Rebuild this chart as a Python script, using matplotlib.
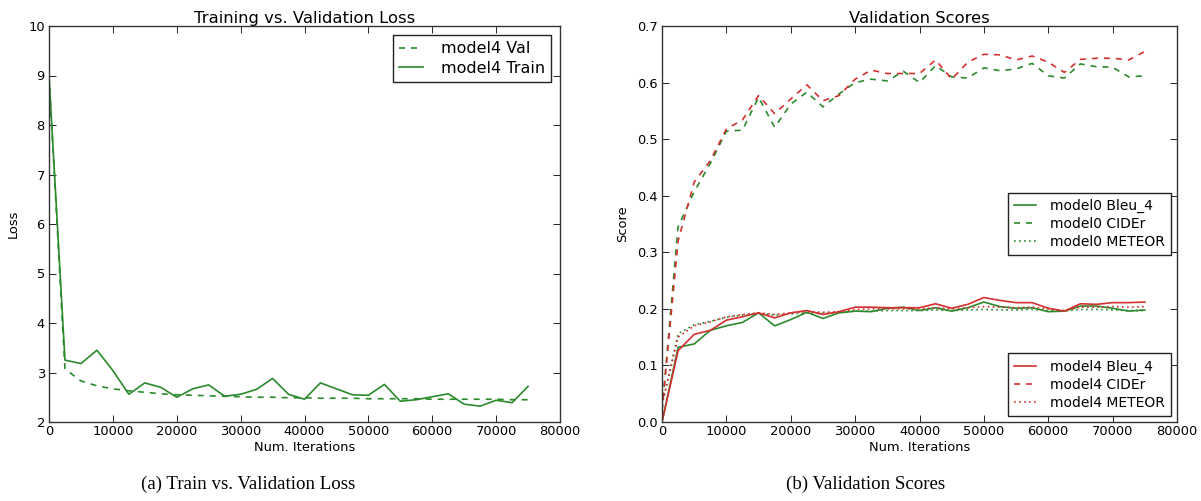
import matplotlib
matplotlib.use("Agg")
import matplotlib.pyplot as plt

# ---------------- data ----------------
iters = [0, 2500, 5000, 7500, 10000, 12500, 15000, 17500, 20000, 22500, 25000,
         27500, 30000, 32500, 35000, 37500, 40000, 42500, 45000, 47500, 50000,
         52500, 55000, 57500, 60000, 62500, 65000, 67500, 70000, 72500, 75000]

model4_train = [9.0, 3.25, 3.18, 3.45, 3.04, 2.56, 2.79, 2.70, 2.50, 2.67, 2.75,
                2.52, 2.56, 2.66, 2.88, 2.56, 2.46, 2.79, 2.67, 2.55, 2.54,
                2.76, 2.42, 2.45, 2.51, 2.57, 2.36, 2.32, 2.44, 2.39, 2.72]
model4_val = [9.0, 3.07, 2.83, 2.73, 2.67, 2.63, 2.60, 2.57, 2.55, 2.54, 2.53,
              2.52, 2.51, 2.50, 2.50, 2.49, 2.49, 2.48, 2.48, 2.48, 2.47,
              2.47, 2.47, 2.47, 2.46, 2.46, 2.46, 2.46, 2.46, 2.45, 2.45]

model0_bleu = [0.0, 0.132, 0.138, 0.162, 0.170, 0.176, 0.193, 0.170, 0.181, 0.194, 0.183,
               0.193, 0.196, 0.195, 0.201, 0.203, 0.197, 0.202, 0.196, 0.202, 0.212,
               0.204, 0.201, 0.202, 0.195, 0.196, 0.205, 0.205, 0.201, 0.196, 0.198]
model0_cider = [0.02, 0.345, 0.407, 0.457, 0.514, 0.516, 0.574, 0.521, 0.562, 0.583, 0.557,
                0.580, 0.600, 0.606, 0.603, 0.620, 0.600, 0.630, 0.610, 0.608, 0.626,
                0.621, 0.624, 0.634, 0.612, 0.608, 0.633, 0.628, 0.627, 0.610, 0.612]
model0_meteor = [0.03, 0.156, 0.172, 0.178, 0.185, 0.189, 0.192, 0.189, 0.191, 0.193, 0.192,
                 0.193, 0.196, 0.196, 0.197, 0.197, 0.197, 0.198, 0.197, 0.198, 0.199,
                 0.198, 0.198, 0.199, 0.197, 0.196, 0.199, 0.199, 0.198, 0.197, 0.197]

model4_bleu = [0.0, 0.126, 0.155, 0.162, 0.180, 0.186, 0.193, 0.184, 0.193, 0.197, 0.190,
               0.195, 0.203, 0.203, 0.202, 0.202, 0.202, 0.209, 0.201, 0.208, 0.220,
               0.215, 0.211, 0.211, 0.201, 0.196, 0.209, 0.208, 0.211, 0.211, 0.212]
model4_cider = [0.02, 0.320, 0.424, 0.462, 0.518, 0.534, 0.577, 0.545, 0.571, 0.596, 0.568,
                0.577, 0.606, 0.622, 0.616, 0.616, 0.616, 0.640, 0.606, 0.636, 0.650,
                0.649, 0.640, 0.647, 0.636, 0.618, 0.641, 0.643, 0.643, 0.640, 0.655]
model4_meteor = [0.03, 0.150, 0.170, 0.177, 0.186, 0.190, 0.193, 0.190, 0.193, 0.195, 0.194,
                 0.195, 0.199, 0.200, 0.200, 0.200, 0.200, 0.202, 0.200, 0.202, 0.204,
                 0.203, 0.202, 0.203, 0.200, 0.197, 0.203, 0.203, 0.204, 0.203, 0.204]

# ---------------- style ----------------
GREEN = "#2b8a2b"
RED = "#d43030"
plt.rcParams.update({
    "font.family": ["DejaVu Sans"],
    "font.size": 9.4,
    "axes.linewidth": 1.0,
    "axes.edgecolor": "#333333",
    "xtick.direction": "in",
    "ytick.direction": "in",
    "xtick.top": True,
    "ytick.right": True,
    "xtick.major.size": 5,
    "ytick.major.size": 5,
    "xtick.major.width": 0.6,
    "ytick.major.width": 0.6,
    "xtick.major.pad": 2.5,
    "ytick.major.pad": 3,
    "xtick.labelsize": 9.4,
    "ytick.labelsize": 9.4,
    "lines.dashed_pattern": [3.6, 3.6],
    "lines.dotted_pattern": [1, 2],
    "legend.frameon": True,
    "legend.fancybox": False,
    "legend.edgecolor": "#222222",
    "legend.framealpha": 1.0,
})

fig = plt.figure(figsize=(12.01, 5.01), dpi=100)
fig.patch.set_facecolor("white")

W, H = 1201.0, 501.0
TOP, BOT = 26, 422
axL = fig.add_axes([49 / W, (H - BOT) / H, (560 - 49) / W, (BOT - TOP) / H])
axR = fig.add_axes([662 / W, (H - BOT) / H, (1177 - 662) / W, (BOT - TOP) / H])

lw = 1.2
# ---- left ----
axL.plot(iters, model4_val, color=GREEN, ls="--", lw=lw, label="model4 Val")
axL.plot(iters, model4_train, color=GREEN, ls="-", lw=lw, label="model4 Train")
axL.set_xlim(0, 80000)
axL.set_ylim(2, 10)
axL.set_title("Training vs. Validation Loss", fontsize=11.8, pad=1.5)
axL.set_xlabel("Num. Iterations", fontsize=9.4, labelpad=2)
axL.set_ylabel("Loss", fontsize=9.4, labelpad=6)
axL.legend(loc="upper right", fontsize=11.5, handlelength=1.5, handletextpad=1.1,
           borderpad=0.4, labelspacing=0.3, borderaxespad=0.55)

# ---- right ----
l0b, = axR.plot(iters, model0_bleu, color=GREEN, ls="-", lw=lw, label="model0 Bleu_4")
l0c, = axR.plot(iters, model0_cider, color=GREEN, ls="--", lw=lw, label="model0 CIDEr")
l0m, = axR.plot(iters, model0_meteor, color=GREEN, ls=":", lw=lw, label="model0 METEOR")
l4b, = axR.plot(iters, model4_bleu, color=RED, ls="-", lw=lw, label="model4 Bleu_4")
l4c, = axR.plot(iters, model4_cider, color=RED, ls="--", lw=lw, label="model4 CIDEr")
l4m, = axR.plot(iters, model4_meteor, color=RED, ls=":", lw=lw, label="model4 METEOR")
axR.set_xlim(0, 80000)
axR.set_ylim(0, 0.7)
axR.set_title("Validation Scores", fontsize=11.8, pad=1.5)
axR.set_xlabel("Num. Iterations", fontsize=9.4, labelpad=2)
axR.set_ylabel("Score", fontsize=9.4, labelpad=6)

legkw = dict(fontsize=10, handlelength=1.6, handletextpad=1.0, borderpad=0.45,
             labelspacing=0.3, borderaxespad=0.4)
leg0 = axR.legend(handles=[l0b, l0c, l0m], loc="center right", **legkw)
axR.add_artist(leg0)
axR.legend(handles=[l4b, l4c, l4m], loc="lower right", **legkw)

# ---- captions ----
fig.text(248 / W, 1 - 484 / H, "(a) Train vs. Validation Loss", ha="center", va="center",
         family="Liberation Serif", fontsize=13.6)
fig.text(866 / W, 1 - 484 / H, "(b) Validation Scores", ha="center", va="center",
         family="Liberation Serif", fontsize=13.6)

fig.savefig("out.png", dpi=100, facecolor="white")
